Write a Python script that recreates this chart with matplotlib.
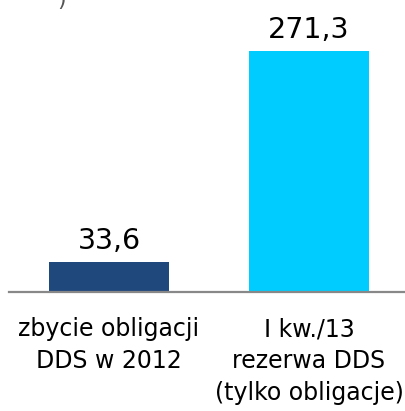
import matplotlib.pyplot as plt

kategorie = ['zbycie obligacji\nDDS w 2012', 'I kw./13\nrezerwa DDS\n(tylko obligacje)']
wartosci = [33.6, 271.3]
etykiety = ['33,6', '271,3']
kolory = ['#1F497D', '#00CCFF']

fig = plt.figure(figsize=(4.06, 4.11), dpi=100)
ax = fig.add_axes([9 / 406, 119 / 411, 397 / 406, 292 / 411])

pozycje = range(len(wartosci))
ax.bar(pozycje, wartosci, width=0.6, color=kolory)

for x, v, t in zip(pozycje, wartosci, etykiety):
    ax.annotate(t, (x, v), xytext=(0, 5), textcoords='offset points',
                ha='center', va='bottom', fontsize=20.5)

ax.set_xlim(-0.5, 1.485)
ax.set_ylim(0, 328.7)
ax.set_xticks(list(pozycje))
ax.set_xticklabels(kategorie, fontsize=17, linespacing=1.42)
ax.tick_params(axis='x', length=0, pad=18)
ax.set_yticks([])
for s in ['top', 'left', 'right']:
    ax.spines[s].set_visible(False)
ax.spines['bottom'].set_color('#888888')
ax.spines['bottom'].set_linewidth(1.6)

# fragment obciętego tytułu nad wykresem
fig.text(0.152, 1.0, ')', fontsize=16, ha='center', va='center', color='#555555')

fig.savefig('out.png', dpi=100)
